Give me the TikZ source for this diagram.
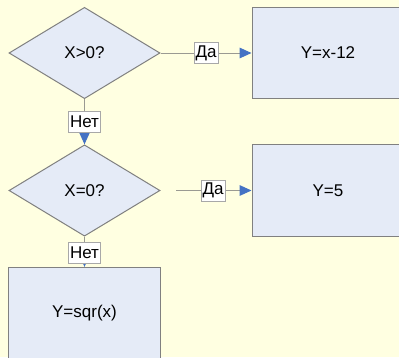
\documentclass[tikz,border=0pt]{standalone}
\usepackage{fontspec}
\setmainfont{Liberation Sans}
\usetikzlibrary{arrows.meta,shapes.geometric}
\definecolor{paper}{HTML}{FFFFE1}
\definecolor{boxfill}{HTML}{E5EBF7}
\definecolor{edge}{HTML}{808080}
\definecolor{wire}{HTML}{9A9A92}
\definecolor{tipblue}{HTML}{4472C4}
\definecolor{lbledge}{HTML}{A8A8A8}

\begin{document}
\begin{tikzpicture}[x=0.75pt,y=-0.75pt,
  every node/.style={font=\fontsize{12.75pt}{15pt}\selectfont},
  decision/.style={diamond, draw=edge, fill=boxfill, line width=0.75pt,
    inner sep=0pt, minimum width=113.25pt, minimum height=68.5pt},
  action/.style={rectangle, draw=edge, fill=boxfill, line width=0.75pt,
    inner sep=0pt, minimum width=114pt, minimum height=68.5pt},
  flow/.style={draw=wire, line width=0.75pt,
    -{Triangle[length=9pt, width=8pt, color=tipblue]}},
  lbl/.style={fill=white, draw=lbledge, line width=0.5pt,
    inner xsep=1.2pt, inner ysep=0pt, minimum height=15.75pt}]

  % page and background
  \fill[paper] (0,0) rectangle (399,357);
  \useasboundingbox (0,0) rectangle (399,357);
  \clip (0,0) rectangle (399,357);

  % blocks
  \node[decision] (d1) at (84.5,53)    {X>0?};
  \node[action]   (b1) at (328,53)     {Y=x-12};
  \node[decision] (d2) at (84.5,190.5) {X=0?};
  \node[action]   (b2) at (328,190.5)  {Y=5};
  \node[action]   (b3) at (84.5,313)   {Y=sqr(x)};

  \coordinate (g2) at (176,190.5);

  % connectors
  \draw[flow] (d1.east) -- (b1.west) node[lbl, midway] {Да};
  \draw[flow] (g2) -- (b2.west) node[lbl, pos=0.49] {Да};
  \draw[flow] (d1.south) -- (d2.north) node[lbl, midway] {Нет};
  \draw[flow] (d2.south) -- (b3.north) node[lbl, pos=0.53] {Нет};
\end{tikzpicture}
\end{document}
